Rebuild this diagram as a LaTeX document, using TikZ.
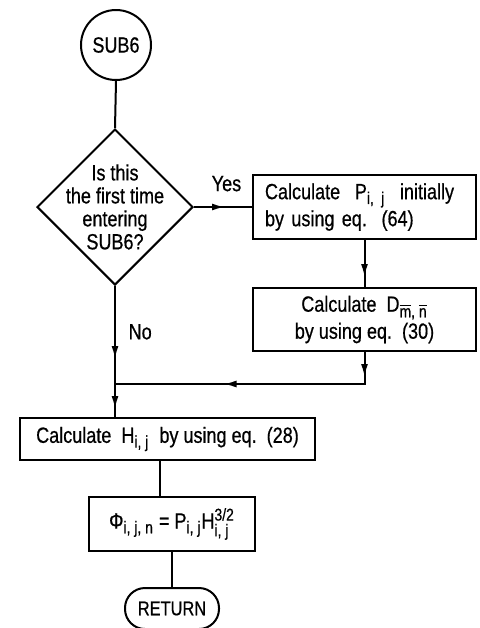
\documentclass[tikz,border=0pt]{standalone}
\usepackage{fontspec}
\setmainfont{Liberation Sans}[FakeStretch=0.82, FakeBold=0.6]
\usetikzlibrary{shapes.geometric,arrows.meta,positioning,decorations.markings}

\newcommand{\subsize}{\fontsize{8.5}{9}\selectfont}
\newcommand{\lo}[1]{$_{\mbox{\subsize #1}}$}
\newcommand{\losup}[2]{$_{\mbox{\subsize #1}}^{\mbox{\subsize #2}}$}
\newcommand{\ovl}[1]{$\overline{\mbox{#1}}$}

\begin{document}
\begin{tikzpicture}[
    x=0.5pt, y=-0.5pt,
    every node/.style={font=\fontsize{11}{13.5}\selectfont},
    term/.style={circle, draw, line width=1pt, minimum size=35pt, inner sep=0pt},
    decision/.style={diamond, draw, line width=1pt, minimum width=78pt, minimum height=78pt, inner sep=0pt},
    box/.style={rectangle, draw, line width=1pt, minimum height=32pt},
    endbox/.style={rectangle, draw, line width=1pt, rounded corners=10pt, minimum width=47pt, minimum height=20.5pt},
    line/.style={line width=1pt},
    arrowat/.style={postaction={decorate, decoration={markings, mark=at position #1 with {\arrow{Latex[length=6.5pt,width=3.5pt]}}}}}
]
    \useasboundingbox (0,0) rectangle (480,628);

    \node[term] (sub6) at (116,45) {SUB6};
    \node[decision] (first) at (115,207) {};
    \node[align=center, font=\fontsize{11}{11.5}\selectfont] (firstq) at (first) {Is this\\the first time\\entering\\SUB6?};
    \node[box, right=29pt of first, text width=99.5pt, inner xsep=6pt, align=left] (init) {Calculate\ \ P\lo{i, j}\ \ initially\\by using eq.\ \ (64)};
    \node[box, below=23.5pt of init, minimum width=111.5pt, minimum height=31.5pt, align=center] (dbar) {Calculate\ \ D\lo{\ovl{m}, \ovl{n}}\\by using eq.\ \ (30)};
    \node[box, minimum width=147.5pt, minimum height=21pt] (hcalc) at (167.5,439) {Calculate\ \ H\lo{i, j}\ \ by using eq.\ \ (28)};
    \node[box, minimum width=83pt, minimum height=27pt] (phi) at (172,524) {Φ\lo{i, j, n} = P\lo{i, j}H\losup{i, j}{3/2}};
    \node[endbox, below=17.5pt of phi] (ret) {\fontsize{10}{12}\selectfont RETURN};
    \coordinate (merge) at (115,384);

    \draw[line] (sub6.south) -- (first.north);
    \draw[line, arrowat=15.5pt] (first.east) -- node[above=4pt, pos=0.56] {Yes} (init.west);
    \draw[line, arrowat=18.5pt] (init.south) -- (dbar.north);
    \draw[line, arrowat=12.5pt, arrowat=86.5pt] (dbar.south) |- (merge);
    \draw[line, arrowat=36.5pt, arrowat=61.5pt] (first.south) -- node[right=3pt, pos=0.35] {No} (first.south |- hcalc.north);
    \draw[line] (hcalc.south -| 160,0) -- (phi.north -| 160,0);
    \draw[line] (phi.south) -- (ret.north);
\end{tikzpicture}
\end{document}
